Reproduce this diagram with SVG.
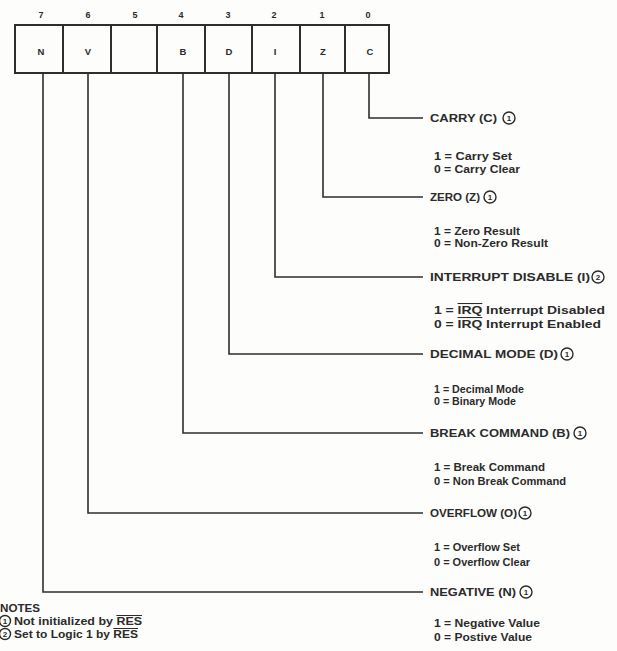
<svg xmlns="http://www.w3.org/2000/svg" width="617" height="651" viewBox="0 0 617 651">
<style>
text{font-family:"Liberation Sans",Arial,sans-serif;font-weight:bold;fill:#2b2b2b}
.bit{font-size:9px;text-anchor:middle}
.cell{font-size:9.5px;text-anchor:middle}
.hd{font-size:10px}
.val{font-size:10.5px}
.note{font-size:10px}
.cn{font-size:8px;text-anchor:middle}
.box{fill:none;stroke:#2e2e2e;stroke-width:2}
.conn{fill:none;stroke:#2e2e2e;stroke-width:1.6}
.circ{fill:none;stroke:#2b2b2b;stroke-width:1.4}
.ov{text-decoration:overline}
</style>
<rect width="617" height="651" fill="#fdfdfb"/>
<g id="register">
  <rect class="box" x="15" y="25" width="374" height="48"/>
  <path class="box" d="M63 25V73M111 25V73M157 25V73M205 25V73M252 25V73M300 25V73M345 25V73"/>
  <text class="bit" x="41" y="18">7</text>
  <text class="bit" x="88" y="18">6</text>
  <text class="bit" x="135" y="18">5</text>
  <text class="bit" x="181" y="18">4</text>
  <text class="bit" x="228" y="18">3</text>
  <text class="bit" x="274" y="18">2</text>
  <text class="bit" x="322" y="18">1</text>
  <text class="bit" x="368" y="18">0</text>
  <text class="cell" x="41" y="55">N</text>
  <text class="cell" x="88" y="55">V</text>
  <text class="cell" x="183" y="55">B</text>
  <text class="cell" x="229" y="55">D</text>
  <text class="cell" x="275" y="55">I</text>
  <text class="cell" x="323" y="55">Z</text>
  <text class="cell" x="370" y="55">C</text>
</g>
<g id="connectors">
  <path class="conn" d="M369 73V118H423"/>
  <path class="conn" d="M323 73V197H423"/>
  <path class="conn" d="M275 73V277H423"/>
  <path class="conn" d="M229 73V354H423"/>
  <path class="conn" d="M183 73V433H423"/>
  <path class="conn" d="M88 73V513H423"/>
  <path class="conn" d="M43 73V592H423"/>
</g>
<g id="carry">
  <text class="hd" x="430" y="122" textLength="67" lengthAdjust="spacingAndGlyphs">CARRY (C)</text>
  <circle class="circ" cx="509" cy="118" r="6"/><text class="cn" x="509" y="121">1</text>
  <text class="val" x="434" y="160" textLength="78" lengthAdjust="spacingAndGlyphs">1 = Carry Set</text>
  <text class="val" x="434" y="173" textLength="86" lengthAdjust="spacingAndGlyphs">0 = Carry Clear</text>
</g>
<g id="zero">
  <text class="hd" x="430" y="201" textLength="50" lengthAdjust="spacingAndGlyphs">ZERO (Z)</text>
  <circle class="circ" cx="490" cy="197" r="6"/><text class="cn" x="490" y="200">1</text>
  <text class="val" x="434" y="235" textLength="86" lengthAdjust="spacingAndGlyphs">1 = Zero Result</text>
  <text class="val" x="434" y="247" textLength="114" lengthAdjust="spacingAndGlyphs">0 = Non-Zero Result</text>
</g>
<g id="interrupt">
  <text class="hd" x="430" y="281" textLength="160" lengthAdjust="spacingAndGlyphs">INTERRUPT DISABLE (I)</text>
  <circle class="circ" cx="598" cy="277" r="6"/><text class="cn" x="598" y="280">2</text>
  <text class="val" x="434" y="314" textLength="171" lengthAdjust="spacingAndGlyphs">1 = <tspan class="ov">IRQ</tspan> Interrupt Disabled</text>
  <text class="val" x="434" y="328" textLength="167" lengthAdjust="spacingAndGlyphs">0 = <tspan class="ov">IRQ</tspan> Interrupt Enabled</text>
</g>
<g id="decimal">
  <text class="hd" x="430" y="358" textLength="128" lengthAdjust="spacingAndGlyphs">DECIMAL MODE (D)</text>
  <circle class="circ" cx="567" cy="354" r="6"/><text class="cn" x="567" y="357">1</text>
  <text class="val" x="434" y="393" textLength="90" lengthAdjust="spacingAndGlyphs">1 = Decimal Mode</text>
  <text class="val" x="434" y="405" textLength="82" lengthAdjust="spacingAndGlyphs">0 = Binary Mode</text>
</g>
<g id="break">
  <text class="hd" x="430" y="437" textLength="140" lengthAdjust="spacingAndGlyphs">BREAK COMMAND (B)</text>
  <circle class="circ" cx="580" cy="433" r="6"/><text class="cn" x="580" y="436">1</text>
  <text class="val" x="434" y="471" textLength="111" lengthAdjust="spacingAndGlyphs">1 = Break Command</text>
  <text class="val" x="434" y="485" textLength="132" lengthAdjust="spacingAndGlyphs">0 = Non Break Command</text>
</g>
<g id="overflow">
  <text class="hd" x="430" y="517" textLength="87" lengthAdjust="spacingAndGlyphs">OVERFLOW (O)</text>
  <circle class="circ" cx="525" cy="513" r="6"/><text class="cn" x="525" y="516">1</text>
  <text class="val" x="434" y="551" textLength="86" lengthAdjust="spacingAndGlyphs">1 = Overflow Set</text>
  <text class="val" x="434" y="566" textLength="96" lengthAdjust="spacingAndGlyphs">0 = Overflow Clear</text>
</g>
<g id="negative">
  <text class="hd" x="430" y="596" textLength="86" lengthAdjust="spacingAndGlyphs">NEGATIVE (N)</text>
  <circle class="circ" cx="526" cy="592" r="6"/><text class="cn" x="526" y="595">1</text>
  <text class="val" x="434" y="627" textLength="106" lengthAdjust="spacingAndGlyphs">1 = Negative Value</text>
  <text class="val" x="434" y="641" textLength="98" lengthAdjust="spacingAndGlyphs">0 = Postive Value</text>
</g>
<g id="notes">
  <text class="note" x="0" y="612" textLength="40" lengthAdjust="spacingAndGlyphs">NOTES</text>
  <circle class="circ" cx="5" cy="621" r="5.5"/><text class="cn" x="5" y="624">1</text>
  <text class="note" x="14" y="625" textLength="128" lengthAdjust="spacingAndGlyphs">Not initialized by <tspan class="ov">RES</tspan></text>
  <circle class="circ" cx="5" cy="634" r="5.5"/><text class="cn" x="5" y="637">2</text>
  <text class="note" x="14" y="638" textLength="124" lengthAdjust="spacingAndGlyphs">Set to Logic 1 by <tspan class="ov">RES</tspan></text>
</g>
</svg>
